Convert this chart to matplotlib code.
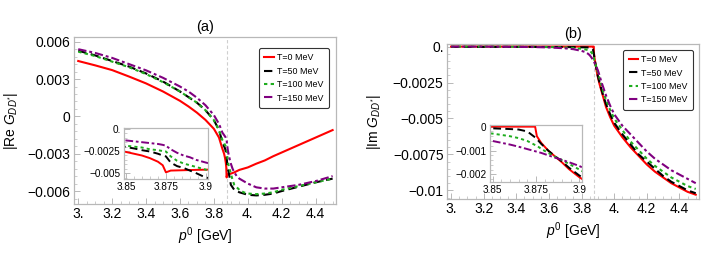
import matplotlib
matplotlib.use("Agg")
import matplotlib.pyplot as plt
from matplotlib.ticker import AutoMinorLocator

plt.rcParams['font.family'] = ['Liberation Sans', 'DejaVu Sans']
plt.rcParams['mathtext.fontset'] = 'custom'
plt.rcParams['mathtext.rm'] = 'Liberation Sans'
plt.rcParams['mathtext.it'] = 'Liberation Sans:italic'

# D D* threshold (GeV)
p_th = 3.875

labels = ['T=0 MeV', 'T=50 MeV', 'T=100 MeV', 'T=150 MeV']

# ---- panel (a): Re G_DD* ----
x_a = [3.0, 3.1, 3.2, 3.3, 3.4, 3.5, 3.6, 3.65, 3.7, 3.75, 3.8, 3.83, 3.85, 3.855,
       3.86, 3.865, 3.87, 3.873, 3.875, 3.878, 3.882, 3.886, 3.89, 3.894, 3.9,
       3.91, 3.92, 3.935, 3.95, 3.975, 4.0, 4.05, 4.1, 4.15, 4.2, 4.3, 4.4, 4.5]
re_T0 = [0.00445, 0.0041, 0.00372, 0.0032, 0.00265, 0.0020, 0.00125, 0.0008, 0.0003,
         -0.00028, -0.001, -0.0017, -0.0026, -0.0028, -0.0030, -0.0033, -0.0037,
         -0.0041, -0.0049, -0.0047, -0.00468, -0.00466, -0.00464, -0.00462, -0.0046,
         -0.00455, -0.0045, -0.0044, -0.0043, -0.0042, -0.0041, -0.0038, -0.00354,
         -0.0032, -0.0029, -0.0023, -0.0017, -0.0011]
re_T50 = [0.00528, 0.0049, 0.00445, 0.0040, 0.00345, 0.0028, 0.0020, 0.00155, 0.0011,
          0.0005, -0.0003, -0.0011, -0.00205, -0.0022, -0.0024, -0.00255, -0.0028,
          -0.0030, -0.0031, -0.0038, -0.0042, -0.0044, -0.0047, -0.0050, -0.0055,
          -0.0057, -0.0059, -0.0060, -0.0061, -0.0062, -0.0063, -0.00635, -0.0063,
          -0.0062, -0.0060, -0.00565, -0.0053, -0.0050]
re_T100 = [0.0052, 0.00485, 0.0044, 0.00395, 0.0034, 0.00275, 0.0020, 0.00155, 0.0011,
           0.0005, -0.0003, -0.0011, -0.0019, -0.0020, -0.0021, -0.0023, -0.0024,
           -0.0025, -0.00255, -0.0031, -0.0036, -0.0039, -0.0041, -0.0043, -0.0046,
           -0.0051, -0.0055, -0.0057, -0.0059, -0.0061, -0.0062, -0.00625, -0.0062,
           -0.0061, -0.0059, -0.0056, -0.0053, -0.0050]
re_T150 = [0.0054, 0.0051, 0.0047, 0.0042, 0.0037, 0.0031, 0.0024, 0.0020, 0.0015,
           0.0009, 0.0001, -0.0006, -0.0013, -0.0014, -0.0015, -0.0016, -0.0017,
           -0.0018, -0.0019, -0.0023, -0.0027, -0.0030, -0.0032, -0.0035, -0.0038,
           -0.0042, -0.0045, -0.0048, -0.0050, -0.0052, -0.0054, -0.0057, -0.0058,
           -0.0058, -0.0057, -0.0055, -0.0052, -0.0048]

# ---- panel (b): Im G_DD* ----
x_b = [3.0, 3.2, 3.4, 3.5, 3.6, 3.7, 3.75, 3.8, 3.82, 3.84, 3.85, 3.86, 3.865, 3.87,
       3.8745, 3.8755, 3.878, 3.882, 3.886, 3.89, 3.894, 3.9, 3.91, 3.92, 3.935,
       3.95, 3.975, 4.0, 4.05, 4.1, 4.15, 4.2, 4.25, 4.3, 4.35, 4.4, 4.45, 4.5]
im_T0 = [0, 0, 0, 0, 0, 0, 0, 0, 0, 0, 0, 0, 0, 0, 0,
         -0.0004, -0.00068, -0.0010, -0.00125, -0.0015, -0.00178, -0.00212, -0.0026,
         -0.0030, -0.0036, -0.0042, -0.0049, -0.0055, -0.0063, -0.0070, -0.0076,
         -0.0082, -0.0087, -0.0091, -0.0095, -0.0098, -0.0101, -0.0103]
im_T50 = [-0.00002, -0.00002, -0.00002, -0.00002, -0.00003, -0.00003, -0.00004,
          -0.00005, -0.00005, -0.00006, -0.00007, -0.0001, -0.00012, -0.0002, -0.00045,
          -0.00052, -0.00072, -0.0010, -0.00124, -0.00146, -0.00172, -0.00205, -0.0025,
          -0.0029, -0.0035, -0.0040, -0.0047, -0.0053, -0.0061, -0.0068, -0.0075,
          -0.0080, -0.0085, -0.0090, -0.0094, -0.0097, -0.0100, -0.0102]
im_T100 = [0, 0, -0.00001, -0.00002, -0.00003, -0.00006, -0.0001, -0.00015, -0.00019,
           -0.00024, -0.00029, -0.0004, -0.00048, -0.0006, -0.00077, -0.0008, -0.00093,
           -0.0011, -0.00126, -0.0014, -0.00156, -0.0018, -0.0022, -0.0026, -0.0032,
           -0.0037, -0.0044, -0.0050, -0.0058, -0.0066, -0.0072, -0.0078, -0.0083,
           -0.0087, -0.0091, -0.0094, -0.0097, -0.0099]
im_T150 = [0, 0, -0.00002, -0.00003, -0.00006, -0.00012, -0.00018, -0.0003, -0.00037,
           -0.0005, -0.0006, -0.00075, -0.00084, -0.00094, -0.00103, -0.00105, -0.0011,
           -0.0012, -0.0013, -0.00139, -0.00149, -0.00165, -0.0020, -0.0024, -0.0029,
           -0.0034, -0.0041, -0.0047, -0.0055, -0.0061, -0.0067, -0.0073, -0.0078,
           -0.0082, -0.0086, -0.0089, -0.0092, -0.0095]

# line styles (Mathematica-like)
styles = [dict(color='#ff0000', linestyle='-'),
          dict(color='black', dashes=(4.0, 2.2)),
          dict(color='#1ead1e', dashes=(1.6, 1.6)),
          dict(color='#800080', dashes=(4.0, 1.4, 1.4, 1.4))]

frame_col = '#b8b8b8'
W, H = 706, 265


def rect(l, t, r, b):
    # pixel box -> figure fraction
    return [l / W, 1 - b / H, (r - l) / W, (b - t) / H]


def style_frame(ax, fs):
    for sp in ax.spines.values():
        sp.set_color(frame_col)
        sp.set_linewidth(0.9)
    ax.tick_params(which='both', direction='in', color=frame_col, labelsize=fs,
                   labelcolor='black', pad=2.5)
    ax.tick_params(which='major', length=4, width=0.7)
    ax.tick_params(which='minor', length=2, width=0.5)


def draw(ax, x, ys, lw):
    for y, st, lab in zip(ys, styles, labels):
        ax.plot(x, y, lw=lw, label=lab, **st)


def add_legend(ax, anchor):
    leg = ax.legend(loc='upper right', bbox_to_anchor=anchor, borderaxespad=0,
                    fontsize=6.4, handlelength=1.1, handletextpad=0.35,
                    labelspacing=0.5, borderpad=0.6, fancybox=True, framealpha=1)
    leg.get_frame().set_edgecolor('#333333')
    leg.get_frame().set_linewidth(0.8)


fig = plt.figure(figsize=(7.06, 2.65), dpi=100)

# ===== (a) =====
ax1 = fig.add_axes(rect(74, 37, 336, 204))
ax1.axvline(p_th, color='#cfcfcf', lw=0.8, dashes=(3, 2), zorder=0)
draw(ax1, x_a, [re_T0, re_T50, re_T100, re_T150], 1.5)
ax1.set_xlim(2.975, 4.52)
ax1.set_ylim(-0.00704, 0.00638)
ax1.set_xticks([3.0, 3.2, 3.4, 3.6, 3.8, 4.0, 4.2, 4.4],
               ['3.', '3.2', '3.4', '3.6', '3.8', '4.', '4.2', '4.4'])
ax1.set_yticks([0.006, 0.003, 0, -0.003, -0.006],
               ['0.006', '0.003', '0', '\u22120.003', '\u22120.006'])
ax1.xaxis.set_minor_locator(AutoMinorLocator(4))
ax1.yaxis.set_minor_locator(AutoMinorLocator(5))
style_frame(ax1, 10)
ax1.set_xlabel(r'$p^0$ [GeV]', fontsize=10, labelpad=3)
ax1.set_ylabel(r'|Re $G_{DD^{*}}$|', fontsize=10)
ax1.yaxis.set_label_coords(-0.205, 0.5)
ax1.set_title('(a)', fontsize=10.5, pad=4)
add_legend(ax1, (0.972, 0.935))

ins1 = fig.add_axes(rect(124, 128, 208, 179))
draw(ins1, x_a, [re_T0, re_T50, re_T100, re_T150], 1.4)
ins1.set_xlim(3.8488, 3.9013)
ins1.set_ylim(-0.00565, 0.0001)
ins1.set_xticks([3.85, 3.875, 3.9], ['3.85', '3.875', '3.9'])
ins1.set_yticks([0, -0.0025, -0.005], ['0.', '\u22120.0025', '\u22120.005'])
ins1.xaxis.set_minor_locator(AutoMinorLocator(5))
ins1.yaxis.set_minor_locator(AutoMinorLocator(5))
style_frame(ins1, 7.2)

# ===== (b) =====
ax2 = fig.add_axes(rect(447, 44, 699, 199))
ax2.axvline(p_th, color='#cfcfcf', lw=0.8, dashes=(3, 2), zorder=0)
draw(ax2, x_b, [im_T0, im_T50, im_T100, im_T150], 1.5)
ax2.set_xlim(2.975, 4.52)
ax2.set_ylim(-0.0106, 0.00018)
ax2.set_xticks([3.0, 3.2, 3.4, 3.6, 3.8, 4.0, 4.2, 4.4],
               ['3.', '3.2', '3.4', '3.6', '3.8', '4.', '4.2', '4.4'])
ax2.set_yticks([0, -0.0025, -0.005, -0.0075, -0.01],
               ['0.', '\u22120.0025', '\u22120.005', '\u22120.0075', '\u22120.01'])
ax2.xaxis.set_minor_locator(AutoMinorLocator(4))
ax2.yaxis.set_minor_locator(AutoMinorLocator(5))
style_frame(ax2, 10)
ax2.set_xlabel(r'$p^0$ [GeV]', fontsize=10, labelpad=3)
ax2.set_ylabel(r'|Im $G_{DD^{*}}$|', fontsize=10)
ax2.yaxis.set_label_coords(-0.254, 0.5)
ax2.set_title('(b)', fontsize=10.5, pad=4)
add_legend(ax2, (0.977, 0.963))

ins2 = fig.add_axes(rect(490, 125, 582, 182))
draw(ins2, x_b, [im_T0, im_T50, im_T100, im_T150], 1.4)
ins2.set_xlim(3.8485, 3.9015)
ins2.set_ylim(-0.00232, 0.00007)
ins2.set_xticks([3.85, 3.875, 3.9], ['3.85', '3.875', '3.9'])
ins2.set_yticks([0, -0.001, -0.002], ['0', '\u22120.001', '\u22120.002'])
ins2.xaxis.set_minor_locator(AutoMinorLocator(5))
ins2.yaxis.set_minor_locator(AutoMinorLocator(5))
style_frame(ins2, 7.2)

fig.savefig('out.png', dpi=100)
